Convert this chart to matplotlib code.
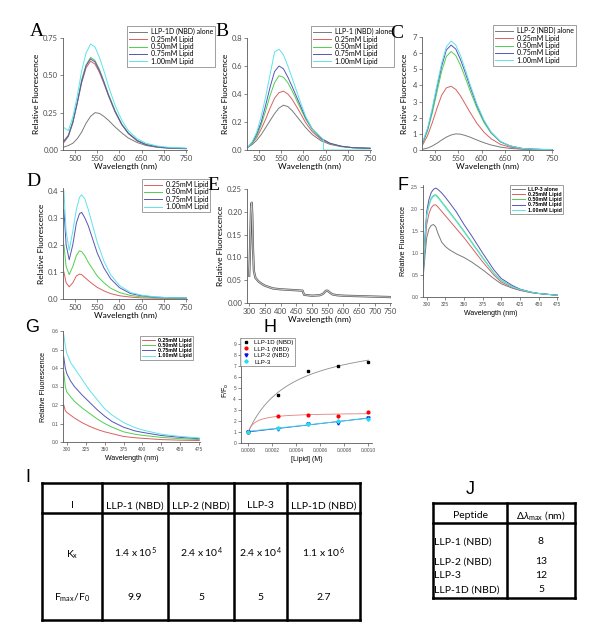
import numpy as np
import matplotlib
matplotlib.use("Agg")
import matplotlib.pyplot as plt

plt.rcParams['font.family'] = ['Lato', 'DejaVu Sans']
plt.rcParams['mathtext.fontset'] = 'custom'
plt.rcParams['mathtext.rm'] = 'Lato'
plt.rcParams['mathtext.it'] = 'Lato:italic'

# ---- data ----
lipid_labels = ['0.25mM Lipid', '0.50mM Lipid', '0.75mM Lipid', '1.00mM Lipid']

wl = [475, 485, 495, 505, 515, 525, 535, 545, 555, 565, 575, 590, 605, 620, 640, 660, 685, 710, 750]

a_alone = [0.02, 0.03, 0.045, 0.075, 0.12, 0.18, 0.225, 0.25, 0.245, 0.225, 0.2, 0.155, 0.115, 0.08, 0.05, 0.03, 0.018, 0.012, 0.008]
a_025 = [0.05, 0.09, 0.18, 0.31, 0.45, 0.55, 0.595, 0.575, 0.52, 0.445, 0.365, 0.255, 0.17, 0.11, 0.06, 0.035, 0.02, 0.013, 0.01]
a_050 = [0.06, 0.1, 0.19, 0.32, 0.47, 0.57, 0.62, 0.60, 0.54, 0.46, 0.375, 0.265, 0.175, 0.115, 0.065, 0.037, 0.022, 0.014, 0.01]
a_075 = [0.06, 0.095, 0.185, 0.315, 0.46, 0.565, 0.61, 0.59, 0.53, 0.455, 0.37, 0.26, 0.172, 0.112, 0.063, 0.036, 0.021, 0.014, 0.01]
a_100 = [0.15, 0.13, 0.22, 0.36, 0.53, 0.65, 0.71, 0.69, 0.62, 0.53, 0.43, 0.30, 0.2, 0.13, 0.075, 0.045, 0.027, 0.018, 0.013]

b_alone = [0.02, 0.04, 0.07, 0.11, 0.16, 0.21, 0.26, 0.30, 0.32, 0.31, 0.28, 0.22, 0.16, 0.11, 0.065, 0.04, 0.024, 0.016, 0.012]
b_025 = [0.02, 0.05, 0.09, 0.15, 0.22, 0.30, 0.37, 0.41, 0.42, 0.40, 0.36, 0.28, 0.195, 0.13, 0.075, 0.045, 0.026, 0.017, 0.012]
b_050 = [0.02, 0.05, 0.1, 0.18, 0.28, 0.39, 0.48, 0.53, 0.52, 0.48, 0.42, 0.32, 0.22, 0.145, 0.08, 0.047, 0.027, 0.017, 0.012]
b_075 = [0.02, 0.055, 0.115, 0.2, 0.32, 0.45, 0.56, 0.60, 0.58, 0.52, 0.45, 0.34, 0.23, 0.15, 0.083, 0.048, 0.027, 0.017, 0.012]
b_100_wl = [475, 485, 495, 505, 515, 525, 535, 545, 555, 565, 575, 590, 605, 620, 645, 645, 750]
b_100 = [0.02, 0.06, 0.13, 0.24, 0.38, 0.54, 0.70, 0.72, 0.68, 0.60, 0.51, 0.37, 0.24, 0.15, 0.075, 0.0, 0.0]

c_alone = [0.05, 0.12, 0.25, 0.42, 0.62, 0.8, 0.93, 1.0, 0.98, 0.9, 0.8, 0.62, 0.45, 0.31, 0.18, 0.1, 0.05, 0.03, 0.02]
c_025 = [0.35, 0.9, 1.7, 2.6, 3.4, 3.85, 3.95, 3.75, 3.35, 2.85, 2.35, 1.65, 1.1, 0.7, 0.35, 0.18, 0.08, 0.04, 0.02]
c_050 = [0.45, 1.2, 2.3, 3.6, 4.9, 5.8, 6.1, 5.85, 5.25, 4.5, 3.7, 2.6, 1.7, 1.05, 0.5, 0.25, 0.1, 0.05, 0.02]
c_075 = [0.5, 1.3, 2.5, 3.9, 5.2, 6.2, 6.5, 6.25, 5.6, 4.8, 3.95, 2.75, 1.8, 1.1, 0.52, 0.26, 0.1, 0.05, 0.02]
c_100 = [0.55, 1.35, 2.6, 4.05, 5.4, 6.4, 6.75, 6.5, 5.85, 5.0, 4.1, 2.85, 1.85, 1.12, 0.53, 0.26, 0.1, 0.05, 0.02]

d_wl = [475, 480, 487, 495, 503, 510, 515, 522, 530, 540, 550, 565, 580, 600, 625, 650, 680, 710, 750]
d_025 = [0.10, 0.06, 0.045, 0.06, 0.085, 0.092, 0.09, 0.08, 0.068, 0.055, 0.043, 0.03, 0.02, 0.012, 0.007, 0.004, 0.003, 0.002, 0.002]
d_050 = [0.20, 0.12, 0.09, 0.12, 0.16, 0.178, 0.175, 0.16, 0.135, 0.11, 0.085, 0.06, 0.04, 0.024, 0.013, 0.008, 0.005, 0.004, 0.003]
d_075 = [0.33, 0.2, 0.145, 0.2, 0.28, 0.315, 0.32, 0.3, 0.27, 0.22, 0.17, 0.115, 0.075, 0.042, 0.02, 0.012, 0.007, 0.005, 0.004]
d_100 = [0.40, 0.25, 0.18, 0.25, 0.33, 0.375, 0.385, 0.37, 0.33, 0.27, 0.21, 0.14, 0.09, 0.05, 0.024, 0.014, 0.008, 0.005, 0.004]

e_wl = [300, 302, 304, 306, 308, 310, 312, 315, 320, 330, 340, 350, 375, 400, 425, 450, 470, 475, 500, 525, 535, 545, 550, 555, 565, 580, 600, 650, 700, 750]
e_val = [0.06, 0.1, 0.16, 0.21, 0.22, 0.19, 0.12, 0.07, 0.055, 0.047, 0.042, 0.038, 0.032, 0.03, 0.029, 0.028, 0.027, 0.018, 0.016, 0.017, 0.02, 0.027, 0.027, 0.024, 0.019, 0.017, 0.016, 0.015, 0.014, 0.013]

f_wl = [295, 298, 300, 303, 306, 309, 312, 315, 320, 325, 330, 340, 350, 360, 375, 390, 400, 415, 425, 440, 450, 475]
f_alone = [0.4, 1.0, 1.35, 1.55, 1.63, 1.65, 1.6, 1.45, 1.25, 1.15, 1.08, 0.98, 0.9, 0.8, 0.62, 0.42, 0.3, 0.2, 0.15, 0.1, 0.08, 0.04]
f_025 = [0.45, 1.25, 1.65, 1.9, 2.03, 2.09, 2.1, 2.05, 1.95, 1.85, 1.75, 1.55, 1.35, 1.13, 0.8, 0.5, 0.34, 0.22, 0.16, 0.1, 0.08, 0.04]
f_050 = [0.5, 1.4, 1.85, 2.1, 2.25, 2.31, 2.33, 2.28, 2.17, 2.06, 1.95, 1.73, 1.5, 1.26, 0.9, 0.55, 0.38, 0.23, 0.17, 0.11, 0.08, 0.04]
f_075 = [0.5, 1.45, 1.95, 2.22, 2.38, 2.45, 2.48, 2.45, 2.37, 2.27, 2.16, 1.93, 1.65, 1.4, 1.0, 0.62, 0.42, 0.26, 0.18, 0.11, 0.08, 0.04]
f_100 = [0.5, 1.42, 1.88, 2.08, 2.22, 2.29, 2.31, 2.26, 2.15, 2.04, 1.93, 1.71, 1.48, 1.24, 0.88, 0.54, 0.37, 0.23, 0.17, 0.11, 0.08, 0.04]

g_wl = [296, 298, 300, 305, 310, 320, 330, 340, 350, 360, 375, 390, 400, 425, 450, 475]
g_025 = [0.2, 0.17, 0.16, 0.145, 0.13, 0.105, 0.085, 0.068, 0.055, 0.045, 0.03, 0.023, 0.02, 0.013, 0.01, 0.008]
g_050 = [0.38, 0.3, 0.27, 0.245, 0.22, 0.185, 0.155, 0.125, 0.1, 0.08, 0.055, 0.042, 0.036, 0.025, 0.018, 0.013]
g_075 = [0.46, 0.4, 0.37, 0.33, 0.3, 0.255, 0.215, 0.175, 0.14, 0.11, 0.08, 0.06, 0.052, 0.035, 0.025, 0.018]
g_100 = [0.58, 0.52, 0.48, 0.43, 0.4, 0.34, 0.28, 0.23, 0.18, 0.145, 0.105, 0.078, 0.065, 0.042, 0.03, 0.022]

h_lipid = [0.0, 0.00025, 0.0005, 0.00075, 0.001]
h_llp1d = [1.0, 4.3, 6.55, 7.0, 7.3]
h_llp1 = [1.0, 2.45, 2.55, 2.4, 2.85]
h_llp2 = [1.0, 1.3, 1.7, 1.85, 2.3]
h_llp3 = [1.0, 1.4, 1.7, 1.95, 2.2]

i_header = ['I', 'LLP-1 (NBD)', 'LLP-2 (NBD)', 'LLP-3', 'LLP-1D (NBD)']
i_kx = ['1.4 x 10$^{5}$', '2.4 x 10$^{4}$', '2.4 x 10$^{4}$', '1.1 x 10$^{6}$']
i_fmax = ['9.9', '5', '5', '2.7']

j_peptides = ['LLP-1 (NBD)', 'LLP-2 (NBD)', 'LLP-3', 'LLP-1D (NBD)']
j_shift = ['8', '13', '12', '5']

# colours
c_gray, c_red, c_green, c_blue, c_cyan = '#7a7a7a', '#d96060', '#4fd04f', '#5555b8', '#5fe3ea'

fig = plt.figure(figsize=(6, 6.4), dpi=100)


def px_axes(left, top, right, bottom):
    return fig.add_axes([left / 600, 1 - bottom / 640, (right - left) / 600, (bottom - top) / 640])


def style(ax, fs=5.5, lab=6):
    for s in ['top', 'right']:
        ax.spines[s].set_visible(False)
    for s in ['left', 'bottom']:
        ax.spines[s].set_linewidth(0.6)
        ax.spines[s].set_color('0.35')
    ax.tick_params(labelsize=fs, length=2, width=0.5, pad=1.5, colors='0.35', labelcolor='0.3')
    ax.xaxis.label.set_size(lab)
    ax.yaxis.label.set_size(lab)


def legend_at(ax, x, y, fs=5, **kw):
    opts = dict(loc='upper left', bbox_to_anchor=(x / 600, 1 - y / 640),
                bbox_transform=fig.transFigure, fontsize=fs, frameon=True,
                fancybox=False, edgecolor='0.45', labelspacing=0.05,
                handlelength=2.6, handletextpad=0.5, borderpad=0.3,
                borderaxespad=0)
    opts.update(kw)
    leg = ax.legend(**opts)
    leg.get_frame().set_linewidth(0.6)
    return leg


def panel_label(x, y, s, serif=True):
    fig.text(x / 600, 1 - y / 640, s, ha='center', va='center', fontsize=14 if serif else 13,
             family='Liberation Serif' if serif else 'Liberation Sans')


def sans_ticks(ax):
    for t in ax.get_xticklabels() + ax.get_yticklabels():
        t.set_family('Liberation Sans')


# ---- A ----
ax = px_axes(63, 38, 187, 150)
for ys, col, lab in zip([a_alone, a_025, a_050, a_075, a_100],
                        [c_gray, c_red, c_green, c_blue, c_cyan],
                        ['LLP-1D (NBD) alone'] + lipid_labels):
    ax.plot(wl, ys, color=col, lw=0.7, label=lab)
ax.set_xlim(473, 752)
ax.set_ylim(0, 0.75)
ax.set_xticks([500, 550, 600, 650, 700, 750])
ax.set_yticks([0, 0.25, 0.5, 0.75])
ax.set_yticklabels(['0.00', '0.25', '0.50', '0.75'])
ax.set_xlabel('Wavelength (nm)', labelpad=1)
ax.set_ylabel('Relative Fluorescence', labelpad=2)
style(ax)
legend_at(ax, 127, 26)
panel_label(37, 32, 'A')

# ---- B ----
ax = px_axes(247, 38, 371, 150)
for ys, col, lab in zip([b_alone, b_025, b_050, b_075],
                        [c_gray, c_red, c_green, c_blue],
                        ['LLP-1 (NBD) alone'] + lipid_labels[:3]):
    ax.plot(wl, ys, color=col, lw=0.7, label=lab)
ax.plot(b_100_wl, b_100, color=c_cyan, lw=0.7, label=lipid_labels[3])
ax.set_xlim(473, 752)
ax.set_ylim(0, 0.8)
ax.set_xticks([500, 550, 600, 650, 700, 750])
ax.set_yticks([0, 0.2, 0.4, 0.6, 0.8])
ax.set_yticklabels(['0.0', '0.2', '0.4', '0.6', '0.8'])
ax.set_xlabel('Wavelength (nm)', labelpad=1)
ax.set_ylabel('Relative Fluorescence', labelpad=2)
style(ax)
legend_at(ax, 311, 26)
panel_label(222, 31, 'B')

# ---- C ----
ax = px_axes(422, 37, 553, 150)
for ys, col, lab in zip([c_alone, c_025, c_050, c_075, c_100],
                        [c_gray, c_red, c_green, c_blue, c_cyan],
                        ['LLP-2 (NBD) alone'] + lipid_labels):
    ax.plot(wl, ys, color=col, lw=0.7, label=lab)
ax.set_xlim(473, 752)
ax.set_ylim(0, 7)
ax.set_xticks([500, 550, 600, 650, 700, 750])
ax.set_yticks(range(0, 8))
ax.set_xlabel('Wavelength (nm)', labelpad=1)
ax.set_ylabel('Relative Fluorescence', labelpad=3)
style(ax)
legend_at(ax, 493, 25)
panel_label(397, 33, 'C')

# ---- D ----
ax = px_axes(63, 188, 187, 299)
for ys, col, lab in zip([d_025, d_050, d_075, d_100],
                        [c_red, c_green, c_blue, c_cyan], lipid_labels):
    ax.plot(d_wl, ys, color=col, lw=0.7, label=lab)
ax.set_xlim(473, 752)
ax.set_ylim(0, 0.41)
ax.set_xticks([500, 550, 600, 650, 700, 750])
ax.set_yticks([0, 0.1, 0.2, 0.3, 0.4])
ax.set_yticklabels(['0.0', '0.1', '0.2', '0.3', '0.4'])
ax.set_xlabel('Wavelength (nm)', labelpad=1)
ax.set_ylabel('Relative Fluorescence', labelpad=2)
style(ax)
legend_at(ax, 142, 179)
panel_label(33, 182, 'D')

# ---- E ----
ax = px_axes(247, 189, 391, 303)
ax.plot(e_wl, e_val, color='0.35', lw=1.6)
ax.plot(e_wl, e_val, color='0.78', lw=0.7)
ax.set_xlim(293, 752)
ax.set_ylim(0, 0.25)
ax.set_xticks(range(300, 751, 50))
ax.set_yticks([0, 0.05, 0.1, 0.15, 0.2, 0.25])
ax.set_yticklabels(['0.00', '0.05', '0.10', '0.15', '0.20', '0.25'])
ax.set_xlabel('Wavelength (nm)', labelpad=1)
ax.set_ylabel('Relative Fluorescence', labelpad=2)
style(ax)
panel_label(213, 185, 'E')

# ---- F ----
ax = px_axes(423, 185, 558, 297)
for ys, col, lab in zip([f_alone, f_025, f_050, f_075, f_100],
                        [c_gray, c_red, c_green, c_blue, c_cyan],
                        ['LLP-3 alone'] + lipid_labels):
    ax.plot(f_wl, ys, color=col, lw=0.7, label=lab)
ax.set_xlim(295, 476)
ax.set_ylim(0, 2.55)
ax.set_xticks(range(300, 476, 25))
ax.set_yticks([0, 0.5, 1.0, 1.5, 2.0, 2.5])
ax.set_xlabel('Wavelength (nm)', family='Liberation Sans', labelpad=2)
ax.set_ylabel('Relative Fluorescence', family='Liberation Sans', labelpad=3)
style(ax, fs=3.5, lab=5)
sans_ticks(ax)
legend_at(ax, 510, 185, prop={'family': 'Liberation Sans', 'weight': 'bold', 'size': 3.8})
panel_label(403, 186, 'F', serif=False)

# ---- G ----
ax = px_axes(63, 331, 200, 442)
for ys, col, lab in zip([g_025, g_050, g_075, g_100],
                        [c_red, c_green, c_blue, c_cyan], lipid_labels):
    ax.plot(g_wl, ys, color=col, lw=0.7, label=lab)
ax.set_xlim(295, 476)
ax.set_ylim(0, 0.6)
ax.set_xticks(range(300, 476, 25))
ax.set_yticks([0, 0.1, 0.2, 0.3, 0.4, 0.5, 0.6])
ax.set_xlabel('Wavelength (nm)', family='Liberation Sans', labelpad=2)
ax.set_ylabel('Relative Fluorescence', family='Liberation Sans', labelpad=3)
style(ax, fs=3.5, lab=5)
sans_ticks(ax)
legend_at(ax, 140, 336, prop={'family': 'Liberation Sans', 'weight': 'bold', 'size': 3.8})
panel_label(32, 327, 'G', serif=False)


# ---- H ----
def hyper_fit(x, y):
    x = np.asarray(x)
    y = np.asarray(y) - 1.0
    best = None
    for k in np.logspace(2, 6, 600):
        g = k * x / (1 + k * x)
        amp = np.sum(g * y) / np.sum(g * g)
        sse = np.sum((y - amp * g) ** 2)
        if best is None or sse < best[0]:
            best = (sse, k, amp)
    return best[1], best[2]


ax = px_axes(241, 338, 372, 443)
xs = np.linspace(0, 0.001, 200)
k1, a1 = hyper_fit(h_lipid, h_llp1d)
ax.plot(xs, 1 + a1 * k1 * xs / (1 + k1 * xs), color='0.55', lw=0.6)
k2, a2 = hyper_fit(h_lipid, h_llp1)
ax.plot(xs, 1 + a2 * k2 * xs / (1 + k2 * xs), color='#e08080', lw=0.6)
p2 = np.polyfit(h_lipid, h_llp2, 1)
ax.plot(xs, np.polyval(p2, xs), color='#4040d0', lw=0.6)
p3 = np.polyfit(h_lipid, h_llp3, 1)
ax.plot(xs, np.polyval(p3, xs), color='#30e0e8', lw=0.6)
ax.plot(h_lipid, h_llp1d, 's', color='black', ms=2.0, label='LLP-1D (NBD)')
ax.plot(h_lipid, h_llp1, 'o', color='red', ms=2.0, label='LLP-1 (NBD)')
ax.plot(h_lipid, h_llp2, 'v', color='#1010e0', ms=2.2, label='LLP-2 (NBD)')
ax.plot(h_lipid, h_llp3, 'D', color='#20e0f0', ms=1.8, label='LLP-3')
ax.set_xlim(-0.00006, 0.00103)
ax.set_ylim(0, 9.5)
ax.set_xticks([0, 0.0002, 0.0004, 0.0006, 0.0008, 0.001])
ax.set_xticklabels(['0.0000', '0.0002', '0.0004', '0.0006', '0.0008', '0.0010'])
ax.set_yticks(range(0, 10))
ax.set_xlabel('[Lipid] (M)', family='Liberation Sans', labelpad=2)
ax.set_ylabel('F/F$_{\\mathrm{o}}$', family='Liberation Sans', labelpad=2)
style(ax, fs=3.5, lab=5)
sans_ticks(ax)
legend_at(ax, 240, 338, handlelength=1.5, labelspacing=0.2,
          prop={'family': 'Liberation Sans', 'size': 4.4})
panel_label(270, 327, 'H', serif=False)

# ---- tables I and J ----
tab = fig.add_axes([0, 0, 1, 1], zorder=5)
tab.set_xlim(0, 600)
tab.set_ylim(640, 0)
tab.axis('off')
tab.patch.set_alpha(0)

tlw = 1.8
cols = [42, 102, 168, 234, 287, 360]
rows = [483, 513, 620]
for x in cols:
    tab.plot([x, x], [rows[0], rows[-1]], color='black', lw=tlw, solid_capstyle='projecting')
for y in rows:
    tab.plot([cols[0], cols[-1]], [y, y], color='black', lw=tlw, solid_capstyle='projecting')
centers = [(cols[i] + cols[i + 1]) / 2 for i in range(5)]
for cx, s in zip(centers, i_header):
    tab.text(cx, 506, s, ha='center', va='center', fontsize=7.5)
tab.text(centers[0], 555, 'K$_{\\mathrm{x}}$', ha='center', va='center', fontsize=7.5)
tab.text(centers[0], 598, 'F$_{\\mathrm{max}}$/F$_{\\mathrm{0}}$', ha='center', va='center', fontsize=7.5)
for cx, s in zip(centers[1:], i_kx):
    tab.text(cx, 553, s, ha='center', va='center', fontsize=7.5)
for cx, s in zip(centers[1:], i_fmax):
    tab.text(cx, 597, s, ha='center', va='center', fontsize=7.5)
panel_label(28, 478, 'I', serif=False)

jcols = [433, 507, 575]
jrows = [503, 523, 598]
for x in jcols:
    tab.plot([x, x], [jrows[0], jrows[-1]], color='black', lw=tlw, solid_capstyle='projecting')
for y in jrows:
    tab.plot([jcols[0], jcols[-1]], [y, y], color='black', lw=tlw, solid_capstyle='projecting')
tab.text((jcols[0] + jcols[1]) / 2, 516, 'Peptide', ha='center', va='center', fontsize=7.5)
tab.text((jcols[1] + jcols[2]) / 2, 516, '$\\Delta\\lambda_{\\mathrm{max}}$ (nm)', ha='center',
         va='center', fontsize=7.5)
for y, p, v in zip([542, 562, 575, 590], j_peptides, j_shift):
    tab.text(jcols[0] + 1, y, p, ha='left', va='center', fontsize=7.5)
    tab.text((jcols[1] + jcols[2]) / 2, y, v, ha='center', va='center', fontsize=7.5)
panel_label(470, 490, 'J', serif=False)

fig.savefig('out.png', dpi=100)
